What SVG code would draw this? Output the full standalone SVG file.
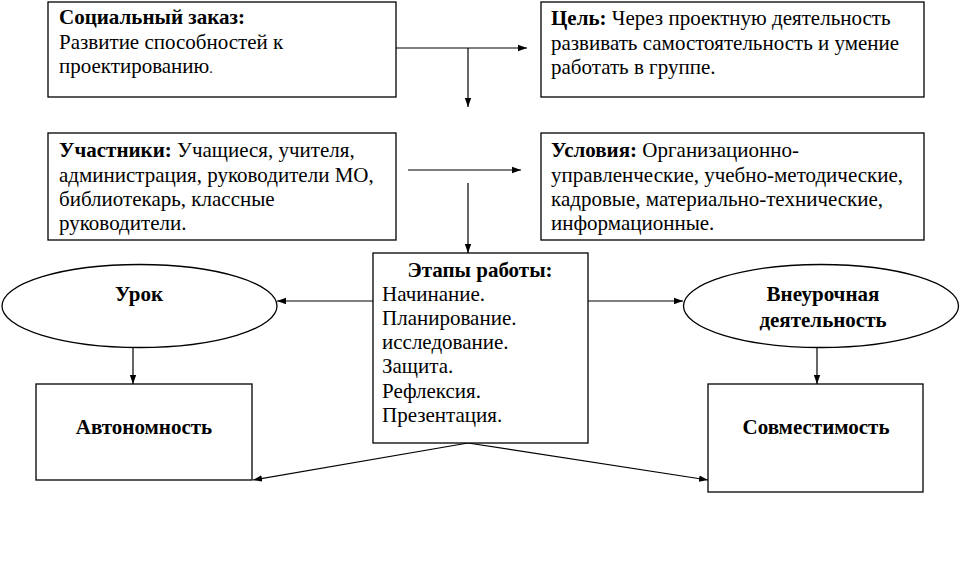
<svg xmlns="http://www.w3.org/2000/svg" width="962" height="566" viewBox="0 0 962 566">
<defs>
<marker id="ah" markerWidth="9" markerHeight="8" refX="9" refY="4" orient="auto" markerUnits="userSpaceOnUse">
<path d="M0,0.8 L9,4 L0,7.2 Z" fill="#000"/>
</marker>
<style>
.box{fill:#fff;stroke:#000;stroke-width:1.3}
.ln{fill:none;stroke:#000;stroke-width:1.2}
.ar{fill:none;stroke:#000;stroke-width:1.2;marker-end:url(#ah)}
</style>
</defs>
<rect width="962" height="566" fill="#fff"/>
<g id="connectors">
<line class="ln" x1="396" y1="48" x2="468" y2="48"/>
<line class="ar" x1="468" y1="48" x2="527" y2="48"/>
<line class="ar" x1="468" y1="48" x2="468" y2="107"/>
<line class="ar" x1="408" y1="170" x2="521" y2="170"/>
<line class="ar" x1="468" y1="183" x2="468" y2="253"/>
<line class="ar" x1="373" y1="301" x2="277" y2="301"/>
<line class="ar" x1="588" y1="301" x2="683" y2="301"/>
<line class="ar" x1="133" y1="348" x2="133" y2="384"/>
<line class="ar" x1="817" y1="348" x2="817" y2="384"/>
<line class="ar" x1="468" y1="443" x2="253" y2="480"/>
<line class="ar" x1="468" y1="443" x2="708" y2="480"/>
</g>
<g font-family="Liberation Serif, 'Times New Roman', serif" font-size="21" fill="#000">
<g id="social">
<rect class="box" x="48" y="2" width="348" height="95"/>
<text x="59" y="24" font-weight="bold">Социальный заказ:</text>
<text x="59" y="48.5">Развитие способностей к</text>
<text x="59" y="73">проектированию<tspan font-size="14">.</tspan></text>
</g>
<g id="goal">
<rect class="box" x="541" y="2" width="383" height="95"/>
<text x="551" y="25"><tspan font-weight="bold">Цель:</tspan> Через проектную деятельность</text>
<text x="551" y="49.5">развивать самостоятельность и умение</text>
<text x="551" y="74">работать в группе.</text>
</g>
<g id="participants">
<rect class="box" x="48" y="133" width="348" height="107"/>
<text x="59" y="157"><tspan font-weight="bold">Участники:</tspan> Учащиеся, учителя,</text>
<text x="59" y="181.5">администрация, руководители МО,</text>
<text x="59" y="206">библиотекарь, классные</text>
<text x="59" y="230">руководители.</text>
</g>
<g id="conditions">
<rect class="box" x="541" y="133" width="383" height="107"/>
<text x="551" y="157"><tspan font-weight="bold">Условия:</tspan> Организационно-</text>
<text x="551" y="181.5">управленческие, учебно-методические,</text>
<text x="551" y="206">кадровые, материально-технические,</text>
<text x="551" y="230">информационные.</text>
</g>
<g id="stages">
<rect class="box" x="373" y="253" width="215" height="190"/>
<text x="480" y="277" font-weight="bold" text-anchor="middle">Этапы работы:</text>
<text x="382" y="301">Начинание.</text>
<text x="382" y="325">Планирование.</text>
<text x="382" y="349">исследование.</text>
<text x="382" y="373">Защита.</text>
<text x="382" y="398">Рефлексия.</text>
<text x="382" y="422">Презентация.</text>
</g>
<g id="lesson">
<ellipse class="box" cx="139.5" cy="306" rx="137.5" ry="41.5"/>
<text x="139" y="301" font-weight="bold" text-anchor="middle">Урок</text>
</g>
<g id="extracurricular">
<ellipse class="box" cx="821" cy="306" rx="137.5" ry="41.5"/>
<text x="823" y="301" font-weight="bold" text-anchor="middle">Внеурочная</text>
<text x="823" y="327" font-weight="bold" text-anchor="middle">деятельность</text>
</g>
<g id="autonomy">
<rect class="box" x="36" y="384" width="216" height="96"/>
<text x="144" y="434" font-weight="bold" text-anchor="middle">Автономность</text>
</g>
<g id="compatibility">
<rect class="box" x="708" y="384" width="215" height="108"/>
<text x="816" y="434" font-weight="bold" text-anchor="middle">Совместимость</text>
</g>
</g>
</svg>
